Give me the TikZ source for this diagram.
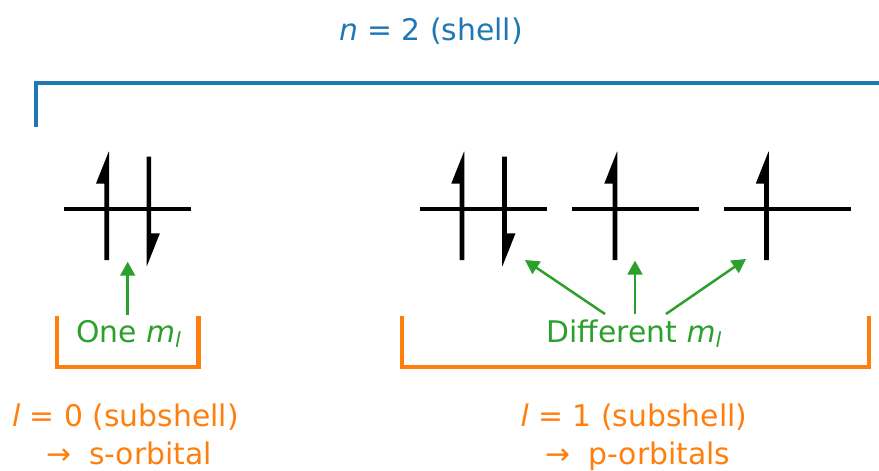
\documentclass[tikz,border=0pt]{standalone}
\usepackage{fontspec}
\setmainfont{DejaVu Sans}
\usetikzlibrary{arrows.meta}
\definecolor{tabblue}{HTML}{1F77B4}
\definecolor{taborange}{HTML}{FF7F0E}
\definecolor{tabgreen}{HTML}{2CA02C}
\newcommand\mysubl{\raisebox{-5pt}{\fontsize{20.8pt}{20.8pt}\selectfont\itshape l}}
\newcommand\myspinup[1]{\fill[black] (#1-2.3,260) -- (#1-2.3,183.5) -- (#1-10.7,183.5) -- (#1+2.0,151.7) -- (#1+2.3,151.7) -- (#1+2.3,260) -- cycle;}
\newcommand\myspindown[1]{\fill[black] (#1-2.3,156.7) -- (#1+2.3,156.7) -- (#1+2.3,233.3) -- (#1+11,233.3) -- (#1-2.0,266) -- (#1-2.3,266) -- cycle;}
\begin{document}
\begin{tikzpicture}[x=1pt,y=-1pt,
  txt/.style={inner sep=0pt, anchor=base, font=\fontsize{29.8pt}{35pt}\selectfont},
  shellline/.style={draw=tabblue, line width=4.6pt, line join=miter},
  subbracket/.style={draw=taborange, line width=4.2pt, line join=miter},
  orbline/.style={draw=black, line width=4.2pt},
  mlarrow/.style={draw=tabgreen, line width=2.5pt, -{Triangle[width=14.7pt,length=14pt]}}]
\useasboundingbox (0,0) rectangle (879,471);
% shell label and bracket
\node[txt, text=tabblue] (shell) at (431,41) {\textit{n} = 2 (shell)};
\coordinate (sb1) at (36,126.7);
\coordinate (sb2) at (36,83);
\coordinate (sb3) at (882,83);
\draw[shellline] (sb1) -- (sb2) -- (sb3);
% orbitals
\foreach \c/\nm in {127.5/o1, 483.5/o2, 635.5/o3, 787.5/o4}{
  \coordinate (\nm) at (\c,209);
  \draw[orbline] (\c-63.5,209) -- (\c+63.5,209);
}
\myspinup{106.7}
\myspindown{148.9}
\myspinup{462}
\myspindown{504.5}
\myspinup{615}
\myspinup{766.5}
% subshell brackets
\draw[subbracket] (57,316) -- (57,367) -- (198.5,367) -- (198.5,316);
\draw[subbracket] (402,316) -- (402,367) -- (869.3,367) -- (869.3,316);
% m_l labels
\node[txt, text=tabgreen] (one) at (128.5,342) {One \textit{m}\mysubl};
\node[txt, text=tabgreen] (diff) at (634,342.5) {Different \textit{m}\mysubl};
\coordinate (s1) at (127.7,315);
\coordinate (t1) at (127.7,261.7);
\coordinate (s2) at (605,314);
\coordinate (t2) at (525,260);
\coordinate (s3) at (635,314);
\coordinate (t3) at (635,260.5);
\coordinate (s4) at (666,314);
\coordinate (t4) at (746,259);
\draw[mlarrow] (s1) -- (t1);
\draw[mlarrow] (s2) -- (t2);
\draw[mlarrow] (s3) -- (t3);
\draw[mlarrow] (s4) -- (t4);
% subshell labels
\node[txt, text=taborange] (l0) at (125.5,426.7) {\textit{l} = 0 (subshell)};
\node[txt, text=taborange] (sorb) at (129,464.5) {→\hspace{8.5pt} s-orbital};
\node[txt, text=taborange] (l1) at (634,426.7) {\textit{l} = 1 (subshell)};
\node[txt, text=taborange] (porb) at (638,464.5) {→\hspace{8.5pt} p-orbitals};
\end{tikzpicture}
\end{document}
